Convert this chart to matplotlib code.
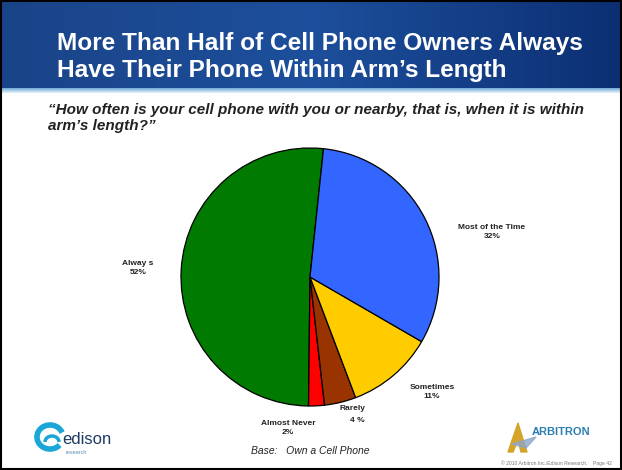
import numpy as np
import matplotlib.pyplot as plt
from matplotlib.patches import Rectangle, Polygon, Arc
from matplotlib.colors import LinearSegmentedColormap

labels = ['Alway s', 'Almost Never', 'Rarely', 'Sometimes', 'Most of the Time']
values = [52, 2, 4, 11, 32]
colors = ['#007A00', '#FF0000', '#993300', '#FFCC00', '#3366FF']

title = 'More Than Half of Cell Phone Owners Always\nHave Their Phone Within Arm\u2019s Length'
question = '\u201cHow often is your cell phone with you or nearby, that is, when it is within\narm\u2019s length?\u201d'

W, H = 622, 470
fig = plt.figure(figsize=(W / 100, H / 100), dpi=100)
fig.patch.set_facecolor('white')

def px(x, y):
    return x / W, 1 - y / H

# header band with gradient
hdr = fig.add_axes([0, 1 - 88 / H, 1, 88 / H])
grad = np.linspace(0, 1, 256).reshape(1, -1)
cmap = LinearSegmentedColormap.from_list('hdr', ['#1a4488', '#1d4f9c', '#0c2f73'])
hdr.imshow(grad, aspect='auto', cmap=cmap, extent=[0, 1, 0, 1])
hdr.set_axis_off()
line = fig.add_axes([0, 1 - 93 / H, 1, 5 / H])
line.imshow(np.linspace(0, 1, 256).reshape(-1, 1), aspect='auto',
            cmap=LinearSegmentedColormap.from_list('ln', ['#6fa9d8', '#e8f4fb']), extent=[0, 1, 0, 1])
line.set_axis_off()

fig.text(*px(57, 57), title, color='white', fontsize=17.6, fontweight='bold',
         family='Liberation Sans', va='center', ha='left', linespacing=1.2)
fig.text(*px(48, 118), question, color='#222222', fontsize=11, fontweight='bold',
         style='italic', family='Liberation Sans', va='center', ha='left', linespacing=1.25)

# pie
r_px = 129
cx, cy = 310, 277
ax = fig.add_axes([(cx - 131) / W, (H - cy - 131) / H, 262 / W, 262 / H])
ax.pie(values, colors=colors, startangle=84, counterclock=True, radius=r_px / 131,
       wedgeprops=dict(edgecolor='black', linewidth=0.9))
ax.set_xlim(-1, 1)
ax.set_ylim(-1, 1)
ax.set_axis_off()

lab_pos = {'Alway s': (138, 268), 'Almost Never': (288, 428), 'Rarely': (352, 408),
           'Sometimes': (432, 392), 'Most of the Time': (492, 232)}
for lab, v in zip(labels, values):
    x, y = lab_pos[lab]
    if lab == 'Rarely':
        fig.text(*px(x, y), lab, fontsize=6, fontweight='bold', ha='center', va='center',
                 family='Liberation Sans', color='#222222')
        fig.text(*px(x + 5, y + 13), '%d %%' % v, fontsize=6, fontweight='bold', ha='center',
                 va='center', family='Liberation Sans', color='#222222')
    else:
        fig.text(*px(x, y), '%s\n%d%%' % (lab, v), fontsize=6, fontweight='bold', ha='center',
                 va='center', family='Liberation Sans', color='#222222', linespacing=1.4)

fig.text(*px(310, 451), 'Base:   Own a Cell Phone', fontsize=7.5, style='italic',
         ha='center', va='center', family='Liberation Sans', color='#222222')
fig.text(*px(612, 463), '\u00a9 2010 Arbitron Inc./Edison Research.    Page 42', fontsize=3.6,
         ha='right', va='center', family='Liberation Sans', color='#777777')

# logos
ov = fig.add_axes([0, 0, 1, 1])
ov.set_xlim(0, W)
ov.set_ylim(H, 0)
ov.set_axis_off()
ov.add_patch(Arc((50, 437), 26, 24, theta1=40, theta2=340, color='#1aa6d6', lw=4))
ov.add_patch(Arc((52, 442), 14, 12, theta1=180, theta2=360, color='#1aa6d6', lw=2.5))
ov.text(62, 440, 'edison', fontsize=12, color='#1d3b63', family='Liberation Sans', va='center')
ov.text(66, 452, 'research', fontsize=4, color='#5a8fb8', family='Liberation Sans', va='center')
ov.add_patch(Polygon([[508, 452], [518, 423], [527, 452], [521, 452], [518, 440], [513, 452]],
                     closed=True, color='#d4a52a'))
ov.add_patch(Polygon([[512, 444], [536, 437], [526, 448]], closed=True, color='#8da6c8', alpha=0.8))
ov.text(532, 432, 'ARBITRON', fontsize=8, color='#2a7fb0', fontweight='bold',
        family='Liberation Sans', va='center')
ov.add_patch(Rectangle((0.5, 0.5), W - 1.5, H - 1.5, fill=False, ec='black', lw=1.5))

fig.savefig('out.png', dpi=100)
